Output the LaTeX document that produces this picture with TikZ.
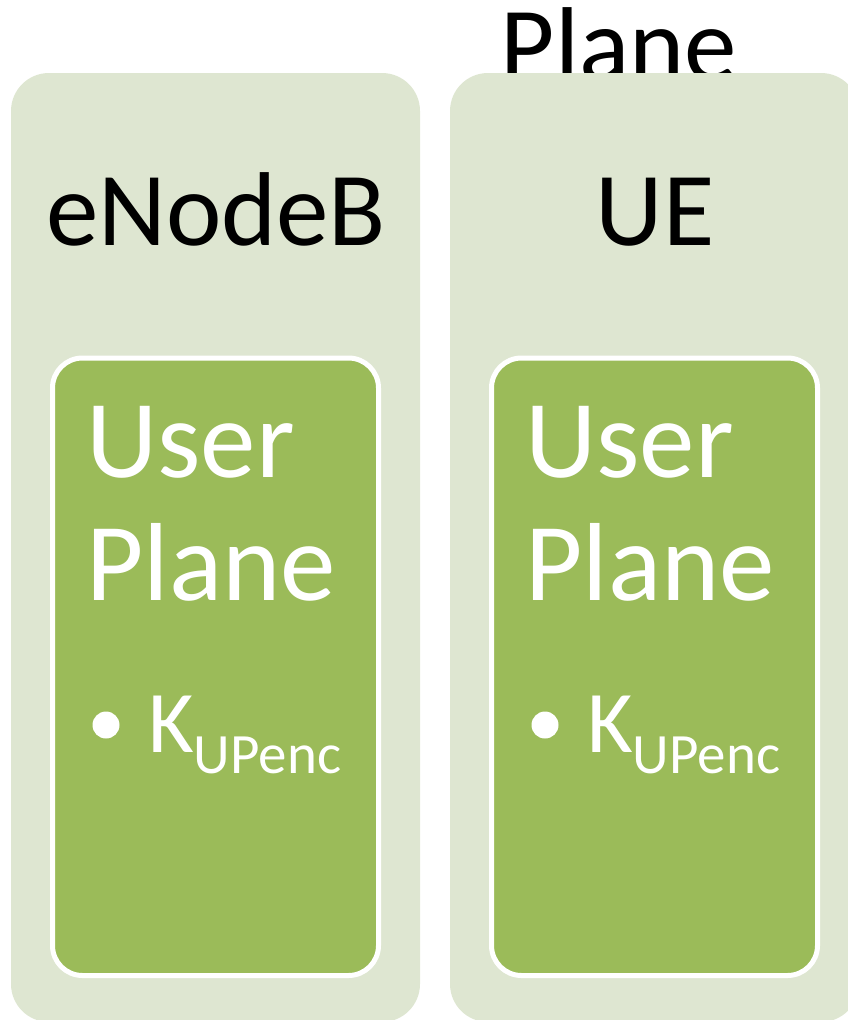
\documentclass[tikz,border=0pt]{standalone}
\usepackage{fontspec}
\setmainfont{Carlito}
\definecolor{paleolive}{HTML}{DEE6D1}
\definecolor{olive}{HTML}{9BBB59}
\tikzset{
  panel/.style={fill=paleolive, draw=none, rounded corners=38pt},
  plane/.style={fill=olive, draw=white, line width=5pt, rounded corners=30pt},
  heading/.style={anchor=base, inner sep=0pt, text=black, font=\fontsize{105}{105}\selectfont},
  bigtext/.style={anchor=base west, inner sep=0pt, text=white, font=\fontsize{111}{111}\selectfont},
  keytext/.style={anchor=base west, inner sep=0pt, text=white, font=\fontsize{88}{88}\selectfont},
  dot/.style={fill=white, draw=none}
}
\newcommand{\upkey}{K\raisebox{-21pt}{\fontsize{57}{57}\selectfont UPenc}}
\begin{document}
\begin{tikzpicture}[x=1pt, y=-1pt]
  \useasboundingbox (0,0) rectangle (848,1020);

  % caption partly hidden behind the right panel
  \node[heading] (topcap) at (619,80) {Plane};

  % outer panels
  \path[panel] (11,73) rectangle (420,1022);
  \path[panel] (450,73) rectangle (859,1022);

  % titles
  \node[heading] (enb) at (216,245) {eNodeB};
  \node[heading] (ue) at (655,245) {UE};

  % inner user-plane boxes
  \draw[plane] (52.5,358) rectangle (378.5,975.5);
  \draw[plane] (491.5,358) rectangle (817.5,975.5);

  % left box contents
  \node[bigtext] (upl1) at (86,477) {User};
  \node[bigtext] (upl2) at (86,600) {Plane};
  \fill[dot] (106,725) circle (13.5);
  \node[keytext] (keyl) at (148,752) {\upkey};

  % right box contents
  \node[bigtext] (upr1) at (525,477) {User};
  \node[bigtext] (upr2) at (525,600) {Plane};
  \fill[dot] (545,725) circle (13.5);
  \node[keytext] (keyr) at (587,752) {\upkey};
\end{tikzpicture}
\end{document}
